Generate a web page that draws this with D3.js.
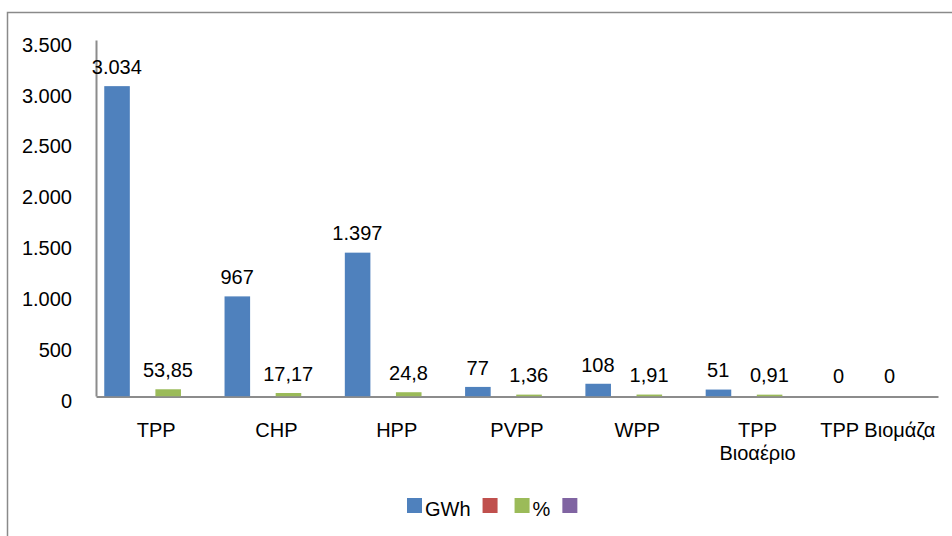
<!DOCTYPE html>
<html>
<head>
<meta charset="utf-8">
<script src="https://cdn.jsdelivr.net/npm/d3@7"></script>
<style>
  body { margin: 0; background: #fff; }
  svg { display: block; }
  text { font-family: "Liberation Sans", Arial, sans-serif; fill: #000; }
</style>
</head>
<body>
<svg id="chart" width="952" height="536"></svg>
<script>
// ---- data ----
const categories = ["TPP", "CHP", "HPP", "PVPP", "WPP", "TPP\nΒιοαέριο", "TPP Βιομάζα"];
const seriesNames = ["GWh", "", "%", ""];
const seriesColors = ["#4F81BD", "#C0504D", "#9BBB59", "#8064A2"];
const gwhValues = [3034, 967, 1397, 77, 108, 51, 0];
const redValues = [null, null, null, null, null, null, null];
const pctValues = [53.85, 17.17, 24.8, 1.36, 1.91, 0.91, 0];
const purpleValues = [null, null, null, null, null, null, null];
const yTicks = [0, 500, 1000, 1500, 2000, 2500, 3000, 3500];

const seriesValues = [gwhValues, redValues, pctValues, purpleValues];

const locale = d3.formatLocale({decimal: ",", thousands: ".", grouping: [3], currency: ["", "€"]});
const fmtInt = locale.format(",d");
const fmtDec = v => String(v).replace(".", ",");
const labelFmt = [fmtInt, null, fmtDec, null];

const svg = d3.select("#chart");

// outer frame
svg.append("rect")
  .attr("x", 7.5).attr("y", 12.5)
  .attr("width", 960).attr("height", 540)
  .attr("fill", "none").attr("stroke", "#8a8a8a").attr("stroke-width", 1.5);

const plotLeft = 96, plotRight = 938, plotTop = 40, plotBottom = 396;

const x0 = d3.scaleBand().domain(d3.range(categories.length)).range([plotLeft, plotRight]).padding(0);
const bw = x0.bandwidth();
const x1 = d3.scaleBand().domain(d3.range(seriesNames.length)).range([8, bw - 10]).padding(0);
const y = d3.scaleLinear().domain([0, 3500]).range([plotBottom, plotTop]);

// y axis
const yAxis = svg.append("g")
  .attr("transform", `translate(${plotLeft},0)`)
  .call(d3.axisLeft(y).tickValues(yTicks).tickSize(0).tickPadding(24).tickFormat(fmtInt));
yAxis.select(".domain").attr("stroke", "#8c8c8c").attr("stroke-width", 2);
yAxis.selectAll("text").attr("font-size", 20).attr("font-family", "Liberation Sans, Arial, sans-serif").attr("dy", "0.56em").attr("fill", "#000");

// x axis
const xAxis = svg.append("g")
  .attr("transform", `translate(0,${plotBottom + 0.5})`)
  .call(d3.axisBottom(x0).tickSize(0).tickFormat(""));
xAxis.select(".domain").attr("stroke", "#8c8c8c").attr("stroke-width", 2);

// bars
const groups = svg.append("g").selectAll("g")
  .data(categories.map((c, i) => i))
  .join("g")
  .attr("transform", i => `translate(${x0(i)},0)`);

seriesValues.forEach((vals, s) => {
  groups.filter(i => vals[i] != null && vals[i] > 0)
    .append("rect")
    .attr("x", x1(s) + 1)
    .attr("width", x1.bandwidth() - 1.5)
    .attr("y", i => y(vals[i]) - 0.5)
    .attr("height", i => y(0) - y(vals[i]))
    .attr("fill", seriesColors[s])
    .attr("stroke", seriesColors[s])
    .attr("stroke-width", 1.5);
});

// value labels
seriesValues.forEach((vals, s) => {
  if (!labelFmt[s]) return;
  groups.filter(i => vals[i] != null)
    .append("text")
    .attr("x", x1(s) + x1.bandwidth() / 2)
    .attr("y", i => y(vals[i]) - 13.5)
    .attr("text-anchor", "middle")
    .attr("font-size", 20)
    .text(i => labelFmt[s](vals[i]));
});

// category labels
const catG = svg.append("g");
categories.forEach((c, i) => {
  const t = catG.append("text")
    .attr("x", x0(i) + bw / 2)
    .attr("y", 437)
    .attr("text-anchor", "middle")
    .attr("font-size", 20);
  c.split("\n").forEach((line, k) => {
    t.append("tspan").attr("x", x0(i) + bw / 2).attr("dy", k === 0 ? 0 : 23).text(line);
  });
});

// legend
const legend = svg.append("g");
let lx = 407;
seriesNames.forEach((name, s) => {
  legend.append("rect")
    .attr("x", lx).attr("y", 498)
    .attr("width", 15).attr("height", 15)
    .attr("fill", seriesColors[s]);
  const t = legend.append("text")
    .attr("x", lx + 18).attr("y", 515.5)
    .attr("font-size", 20)
    .text(name);
  const w = name ? t.node().getComputedTextLength() : 0;
  lx += 15 + 3 + w + (name ? 12 : 14);
});
</script>
</body>
</html>
